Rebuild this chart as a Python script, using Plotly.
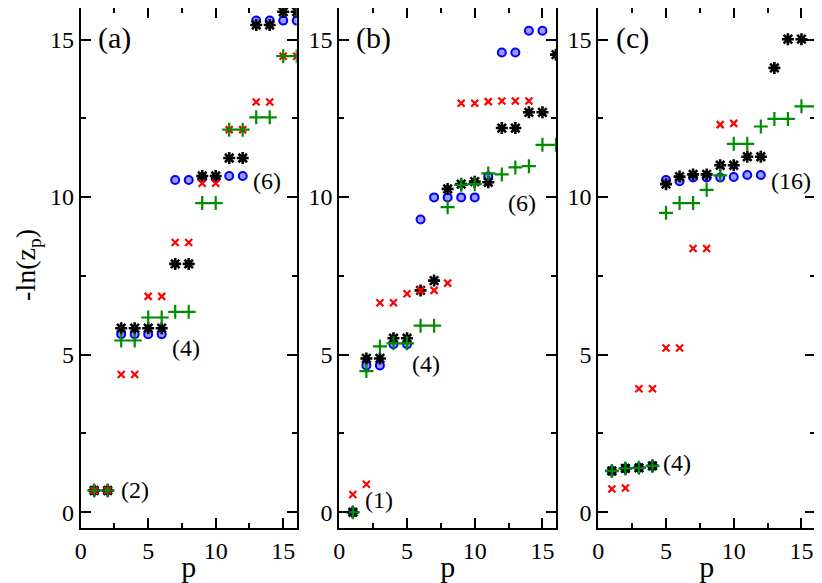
import plotly.graph_objects as go

p = list(range(1, 17))

# Panel (a)
a_blue  = [0.69, 0.69, 5.65, 5.65, 5.65, 5.65, 10.54, 10.54, 10.60, 10.60, 10.67, 10.67, 15.60, 15.60, 15.60, 15.60]
a_black = [0.69, 0.69, 5.84, 5.84, 5.84, 5.84, 7.88, 7.88, 10.67, 10.67, 11.24, 11.24, 15.46, 15.46, 15.88, 15.88]
a_red   = [0.69, 0.69, 4.37, 4.37, 6.85, 6.85, 8.56, 8.56, 10.44, 10.44, 12.14, 12.14, 13.02, 13.02, 14.47, 14.47]
a_green = [0.69, 0.69, 5.45, 5.45, 6.18, 6.18, 6.36, 6.36, 9.81, 9.81, 12.14, 12.14, 12.53, 12.53, 14.47, 14.47]

# Panel (b)
b_blue  = [0.0, 4.66, 4.66, 5.33, 5.33, 9.29, 9.99, 9.99, 9.99, 9.99, 10.65, 14.59, 14.59, 15.28, 15.28, None]
b_black = [0.0, 4.88, 4.88, 5.52, 5.52, 7.04, 7.35, 10.26, 10.41, 10.49, 10.47, 12.19, 12.19, 12.69, 12.69, 14.52]
b_red   = [0.56, 0.89, 6.65, 6.65, 6.93, 7.04, 7.04, 7.27, 12.98, 12.98, 13.03, 13.05, 13.05, 13.05, None, None]
b_green = [0.0, 4.48, 5.26, 5.36, 5.36, 5.92, 5.92, 9.68, 10.39, 10.41, 10.75, 10.72, 10.94, 10.98, 11.66, 11.66]

# Panel (c)
c_blue  = [1.31, 1.39, 1.41, 1.47, 10.54, 10.50, 10.62, 10.62, 10.62, 10.64, 10.70, 10.70, None, None, None, None]
c_black = [1.31, 1.39, 1.41, 1.47, 10.41, 10.65, 10.72, 10.72, 11.01, 11.01, 11.28, 11.28, 14.10, 15.01, 15.01, None]
c_red   = [0.74, 0.77, 3.92, 3.92, 5.21, 5.21, 8.37, 8.37, 12.30, 12.34, None, None, None, None, None, None]
c_green = [1.31, 1.39, 1.41, 1.47, 9.50, 9.81, 9.81, 10.23, 10.69, 11.69, 11.69, 12.24, 12.48, 12.48, 12.88, 12.88]

panels = [
    (a_blue, a_black, a_red, a_green),
    (b_blue, b_black, b_red, b_green),
    (c_blue, c_black, c_red, c_green),
]
panel_labels = ["(a)", "(b)", "(c)"]
degeneracy_labels = [
    [("(2)", 4.0, 0.7), ("(4)", 7.8, 5.2), ("(6)", 13.8, 10.5)],
    [("(1)", 2.9, 0.4), ("(4)", 6.4, 4.7), ("(6)", 13.5, 9.8)],
    [("(4)", 5.8, 1.55), ("(16)", 14.2, 10.5)],
]
x_ticks = [0, 5, 10, 15]
y_ticks = [0, 5, 10, 15]
y_title = "-ln(z<sub>p</sub>)"
x_title = "p"

FONT = "Liberation Serif"
# page has an 8px body margin, so the figure is 814x575 and shifted by 8px
domains = [[0.0893, 0.3547], [0.4070, 0.6732], [0.7252, 0.9914]]

BLUE, BLACK, RED, GREEN = "#0000ff", "#000000", "#ff0000", "#008c00"

fig = go.Figure()
for i, (blue, black, red, green) in enumerate(panels):
    xa = "x" if i == 0 else f"x{i+1}"
    ya = "y" if i == 0 else f"y{i+1}"
    fig.add_trace(go.Scatter(x=p, y=blue, mode="markers", xaxis=xa, yaxis=ya, showlegend=False,
                             marker=dict(symbol="circle", size=8, color="#9a9aff",
                                         line=dict(color=BLUE, width=2))))
    fig.add_trace(go.Scatter(x=p, y=black, mode="markers", xaxis=xa, yaxis=ya, showlegend=False,
                             marker=dict(symbol="asterisk-open", size=10, color=BLACK,
                                         line=dict(color=BLACK, width=2.6))))
    fig.add_trace(go.Scatter(x=p, y=red, mode="markers", xaxis=xa, yaxis=ya, showlegend=False,
                             marker=dict(symbol="x-thin-open", size=7, color=RED,
                                         line=dict(color=RED, width=2.2))))
    fig.add_trace(go.Scatter(x=p, y=green, mode="markers", xaxis=xa, yaxis=ya, showlegend=False,
                             marker=dict(symbol="cross-thin-open", size=10, color=GREEN,
                                         line=dict(color=GREEN, width=2.2))))

def tf(size):
    return dict(family=FONT, size=size, color="black")

layout = dict(
    width=814, height=575,
    margin=dict(l=0, r=0, t=0, b=55),
    plot_bgcolor="white", paper_bgcolor="white",
    font=tf(20),
)
for i in range(3):
    sx = "" if i == 0 else str(i + 1)
    common = dict(
        showline=True, linecolor="black", linewidth=2, mirror="allticks",
        ticks="inside", ticklen=10, tickwidth=2, tickcolor="black",
        showgrid=False, zeroline=False, automargin=False,
        tickfont=tf(24),
        minor=dict(ticks="inside", ticklen=5, tickwidth=2, tickcolor="black", dtick=2.5, showgrid=False),
    )
    layout[f"xaxis{sx}"] = dict(common, domain=domains[i], range=[0, 16], tickvals=x_ticks,
                               anchor=f"y{sx}", title=dict(text=x_title, font=tf(30), standoff=0))
    layout[f"yaxis{sx}"] = dict(common, domain=[0, 1], range=[-0.5, 16], tickvals=y_ticks,
                               anchor=f"x{sx}")
fig.update_layout(**layout)

fig.add_annotation(text=y_title, x=0.024, y=0.505, xref="paper", yref="paper", textangle=-90,
                   xanchor="center", yanchor="middle", showarrow=False, font=tf(28))

for i in range(3):
    sx = "" if i == 0 else str(i + 1)
    fig.add_annotation(text=panel_labels[i], x=2.5, y=15.05, xref=f"x{sx}", yref=f"y{sx}",
                       showarrow=False, font=tf(30))
    for t, x, y in degeneracy_labels[i]:
        fig.add_annotation(text=t, x=x, y=y, xref=f"x{sx}", yref=f"y{sx}",
                           showarrow=False, font=tf(24))

fig.write_html("out.html")
